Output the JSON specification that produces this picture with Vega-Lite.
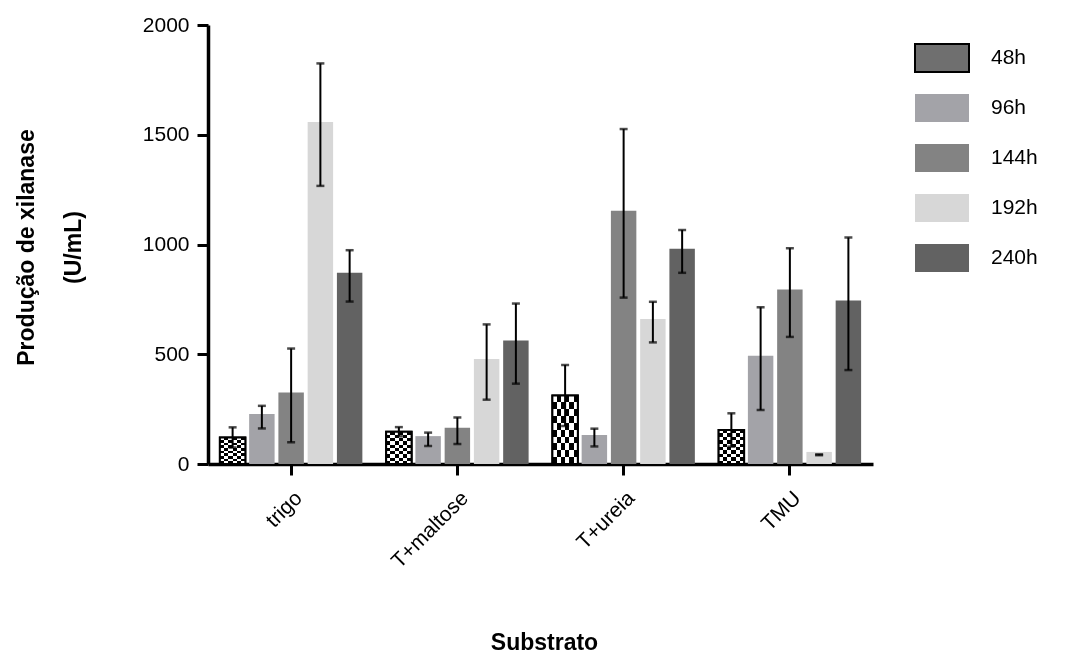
{
  "$schema": "https://vega.github.io/schema/vega-lite/v6.json",
  "width": 665,
  "height": 439,
  "autosize": {"type": "none"},
  "padding": {"left": 208, "top": 25, "right": 194, "bottom": 191},
  "background": "white",
  "config": {
    "view": {"stroke": null},
    "font": "Liberation Sans",
    "axis": {"grid": false, "domainColor": "black", "tickColor": "black", "labelColor": "black", "titleColor": "black", "labelFont": "Liberation Sans", "titleFont": "Liberation Sans"}
  },
  "data": {
    "values": [
      {"substrato": "trigo", "tempo": "48h", "valor": 121, "lo": 75, "hi": 167},
      {"substrato": "trigo", "tempo": "96h", "valor": 228, "lo": 162, "hi": 265},
      {"substrato": "trigo", "tempo": "144h", "valor": 326, "lo": 99, "hi": 526},
      {"substrato": "trigo", "tempo": "192h", "valor": 1558, "lo": 1267, "hi": 1825},
      {"substrato": "trigo", "tempo": "240h", "valor": 871, "lo": 740, "hi": 974},
      {"substrato": "T+maltose", "tempo": "48h", "valor": 147, "lo": 126, "hi": 168},
      {"substrato": "T+maltose", "tempo": "96h", "valor": 127, "lo": 82, "hi": 143},
      {"substrato": "T+maltose", "tempo": "144h", "valor": 165, "lo": 91, "hi": 212},
      {"substrato": "T+maltose", "tempo": "192h", "valor": 478, "lo": 293, "hi": 636},
      {"substrato": "T+maltose", "tempo": "240h", "valor": 563, "lo": 366, "hi": 731},
      {"substrato": "T+ureia", "tempo": "48h", "valor": 312, "lo": 173, "hi": 451},
      {"substrato": "T+ureia", "tempo": "96h", "valor": 132, "lo": 80, "hi": 161},
      {"substrato": "T+ureia", "tempo": "144h", "valor": 1154, "lo": 758, "hi": 1526},
      {"substrato": "T+ureia", "tempo": "192h", "valor": 661, "lo": 554, "hi": 739},
      {"substrato": "T+ureia", "tempo": "240h", "valor": 981, "lo": 871, "hi": 1066},
      {"substrato": "TMU", "tempo": "48h", "valor": 155, "lo": 79, "hi": 231},
      {"substrato": "TMU", "tempo": "96h", "valor": 493, "lo": 246, "hi": 714},
      {"substrato": "TMU", "tempo": "144h", "valor": 795, "lo": 579, "hi": 983},
      {"substrato": "TMU", "tempo": "192h", "valor": 55, "lo": 40, "hi": 44},
      {"substrato": "TMU", "tempo": "240h", "valor": 745, "lo": 428, "hi": 1032}
    ]
  },
  "encoding": {
    "x": {
      "field": "substrato", "type": "nominal", "sort": ["trigo", "T+maltose", "T+ureia", "TMU"],
      "scale": {"paddingInner": 0.143, "paddingOuter": 0.0715},
      "axis": {
        "title": "Substrato", "titleFontSize": 23, "titleFontWeight": "bold", "titleX": 336, "titleY": 178, "titleBaseline": "middle",
        "labelAngle": -45, "labelFontSize": 21, "labelPadding": 12, "tickSize": 11, "tickWidth": 3, "domainWidth": 3.5
      }
    },
    "xOffset": {"field": "tempo", "type": "nominal", "scale": {"domain": ["48h", "96h", "144h", "192h", "240h"], "paddingInner": 0.13, "paddingOuter": 0}}
  },
  "layer": [
    {
      "mark": {"type": "bar", "strokeWidth": 2},
      "encoding": {
        "y": {
          "field": "valor", "type": "quantitative",
          "scale": {"domain": [0, 2000], "nice": false},
          "axis": {
            "title": ["Produção de xilanase", "(U/mL)"], "titleFontSize": 23, "titleFontWeight": "bold", "titleLineHeight": 47,
            "titleX": -182, "titleY": 222, "titleBaseline": "middle", "format": "d",
            "values": [0, 500, 1000, 1500, 2000], "labelFontSize": 21, "labelPadding": 8, "tickSize": 11, "tickWidth": 3, "domainWidth": 3.5
          }
        },
        "color": {
          "field": "tempo", "type": "nominal",
          "scale": {"domain": ["48h", "96h", "144h", "192h", "240h"], "range": ["#6f6f6f", "#a3a3a8", "#838383", "#d7d7d7", "#626262"]},
          "legend": {
            "title": null, "orient": "none", "legendX": 706, "legendY": 5, "padding": 0,
            "symbolType": "M-1,-0.52H1V0.52H-1Z", "symbolSize": 2916, "symbolStrokeWidth": 2, "symbolOpacity": 1,
            "labelFontSize": 21, "labelOffset": 21, "labelColor": "black", "rowPadding": 3
          }
        },
        "stroke": {
          "field": "tempo", "type": "nominal",
          "scale": {"domain": ["48h", "96h", "144h", "192h", "240h"], "range": ["black", "transparent", "transparent", "transparent", "transparent"]},
          "legend": {
            "title": null, "orient": "none", "legendX": 706, "legendY": 5, "padding": 0,
            "symbolType": "M-1,-0.52H1V0.52H-1Z", "symbolSize": 2916, "symbolStrokeWidth": 2, "symbolOpacity": 1,
            "labelFontSize": 21, "labelOffset": 21, "labelColor": "black", "rowPadding": 3
          }
        }
      }
    },
    {
      "transform": [{"filter": "datum.tempo === '48h'"}],
      "mark": {"type": "bar", "fill": {"gradient": "linear", "x1": 0, "y1": 0, "x2": 0, "y2": 1, "stops": [
        {"offset": 0, "color": "white"}, {"offset": 0.1, "color": "white"}, {"offset": 0.1, "color": "black"}, {"offset": 0.2, "color": "black"},
        {"offset": 0.2, "color": "white"}, {"offset": 0.3, "color": "white"}, {"offset": 0.3, "color": "black"}, {"offset": 0.4, "color": "black"},
        {"offset": 0.4, "color": "white"}, {"offset": 0.5, "color": "white"}, {"offset": 0.5, "color": "black"}, {"offset": 0.6, "color": "black"},
        {"offset": 0.6, "color": "white"}, {"offset": 0.7, "color": "white"}, {"offset": 0.7, "color": "black"}, {"offset": 0.8, "color": "black"},
        {"offset": 0.8, "color": "white"}, {"offset": 0.9, "color": "white"}, {"offset": 0.9, "color": "black"}, {"offset": 1, "color": "black"}]}},
      "encoding": {"y": {"field": "valor", "type": "quantitative"}}
    },
    {
      "transform": [{"filter": "datum.tempo === '48h'"}],
      "mark": {"type": "bar", "blend": "difference", "fill": {"gradient": "linear", "x1": 0, "y1": 0, "x2": 1, "y2": 0, "stops": [
        {"offset": 0, "color": "black"}, {"offset": 0.1667, "color": "black"}, {"offset": 0.1667, "color": "white"}, {"offset": 0.3333, "color": "white"},
        {"offset": 0.3333, "color": "black"}, {"offset": 0.5, "color": "black"}, {"offset": 0.5, "color": "white"}, {"offset": 0.6667, "color": "white"},
        {"offset": 0.6667, "color": "black"}, {"offset": 0.8333, "color": "black"}, {"offset": 0.8333, "color": "white"}, {"offset": 1, "color": "white"}]}},
      "encoding": {"y": {"field": "valor", "type": "quantitative"}}
    },
    {
      "transform": [{"filter": "datum.tempo === '48h'"}],
      "mark": {"type": "bar", "fill": "transparent", "stroke": "black", "strokeWidth": 2},
      "encoding": {"y": {"field": "valor", "type": "quantitative"}}
    },
    {
      "mark": {"type": "rule", "color": "black", "strokeWidth": 2},
      "encoding": {"y": {"field": "lo", "type": "quantitative"}, "y2": {"field": "hi"}}
    },
    {
      "mark": {"type": "tick", "orient": "horizontal", "color": "black", "size": 8, "thickness": 2.5},
      "encoding": {"y": {"field": "lo", "type": "quantitative"}}
    },
    {
      "mark": {"type": "tick", "orient": "horizontal", "color": "black", "size": 8, "thickness": 2.5},
      "encoding": {"y": {"field": "hi", "type": "quantitative"}}
    }
  ]
}
